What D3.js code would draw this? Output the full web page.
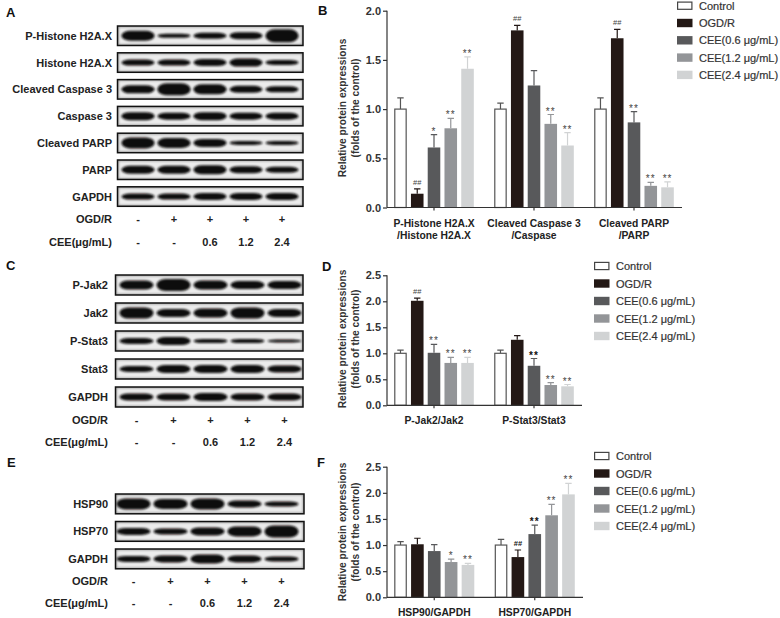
<!DOCTYPE html>
<html>
<head>
<meta charset="utf-8">
<script src="https://cdn.jsdelivr.net/npm/d3@7"></script>
<style>
  html, body { margin: 0; padding: 0; background: #fff; }
  svg { display: block; font-family: "Liberation Sans", Arial, sans-serif; }
  .axis path, .axis line { stroke: #333; stroke-width: 1.2; }
  .axis text { font-size: 11px; font-weight: bold; fill: #333; }
</style>
</head>
<body>
<svg id="chart" width="780" height="618"></svg>
<script>
const seriesNames = ["Control", "OGD/R", "CEE(0.6 μg/mL)", "CEE(1.2 μg/mL)", "CEE(2.4 μg/mL)"];

// bar panels: mean and top of the error bar per group
const groupsB = [["P-Histone H2A.X", "/Histone H2A.X"], ["Cleaved Caspase 3", "/Caspase"], ["Cleaved PARP", "/PARP"]];
const valuesB = [[1.0, 0.14, 0.61, 0.805, 1.41], [1.0, 1.8, 1.24, 0.85, 0.63], [1.0, 1.72, 0.865, 0.22, 0.205]];
const errorsB = [[1.115, 0.19, 0.74, 0.905, 1.53], [1.06, 1.85, 1.39, 0.945, 0.76], [1.115, 1.81, 0.975, 0.255, 0.26]];
const marksB = [["", "##", "*", "**", "**"], ["", "##", "", "**", "**"], ["", "##", "**", "**", "**"]];

const groupsD = [["P-Jak2/Jak2"], ["P-Stat3/Stat3"]];
const valuesD = [[1.0, 2.01, 1.01, 0.815, 0.815], [1.0, 1.26, 0.76, 0.39, 0.365]];
const errorsD = [[1.06, 2.06, 1.17, 0.92, 0.92], [1.06, 1.34, 0.9, 0.435, 0.4]];
const marksD = [["", "##", "**", "**", "**"], ["", "", "**!", "**", "**"]];

const groupsF = [["HSP90/GAPDH"], ["HSP70/GAPDH"]];
const valuesF = [[1.0, 1.015, 0.885, 0.675, 0.62], [1.0, 0.77, 1.21, 1.57, 1.97]];
const errorsF = [[1.065, 1.13, 1.01, 0.73, 0.65], [1.11, 0.905, 1.38, 1.78, 2.18]];
const marksF = [["", "", "", "*", "**"], ["", "##!", "**!", "**", "**"]];

// blot panels: band thickness per lane
const proteinsA = ["P-Histone H2A.X", "Histone H2A.X", "Cleaved Caspase 3", "Caspase 3", "Cleaved PARP", "PARP", "GAPDH"];
const bandsA = [[9, 3, 5, 6, 12], [5, 5, 6, 7, 4], [7, 11, 9, 6, 5], [7, 6, 7, 6, 6], [10, 9, 7, 3, 3], [7, 7, 8, 6, 5], [5, 5, 6, 6, 6]];
const proteinsC = ["P-Jak2", "Jak2", "P-Stat3", "Stat3", "GAPDH"];
const bandsC = [[8, 11, 8, 7, 7], [10, 7, 8, 10, 7], [5, 7, 3, 3, 2], [5, 7, 7, 7, 6], [6, 6, 7, 6, 6]];
const proteinsE = ["HSP90", "HSP70", "GAPDH"];
const bandsE = [[10, 9, 10, 6, 4], [6, 5, 7, 9, 11], [5, 6, 8, 6, 4]];

const ogdLabels = ["-", "+", "+", "+", "+"];
const ceeLabels = ["-", "-", "0.6", "1.2", "2.4"];

const seriesColors = ["#ffffff", "#231815", "#58595b", "#939598", "#d1d3d4"];
const textColor = "#222";

const svg = d3.select("#chart");

const defs = svg.append("defs");
defs.append("filter").attr("id", "soft")
  .attr("x", "-20%").attr("y", "-60%").attr("width", "140%").attr("height", "220%")
  .append("feGaussianBlur").attr("stdDeviation", "1.1 0.8");
defs.append("filter").attr("id", "edge")
  .append("feGaussianBlur").attr("stdDeviation", 1.2);

function drawBars(opts) {
  const g = svg.append("g");
  const yScale = d3.scaleLinear().domain([0, opts.yMax]).range([opts.bottom, opts.top]);
  const x0 = d3.scaleBand()
    .domain(opts.groups.map((d) => d[0]))
    .range([opts.left - 3, opts.left - 3 + opts.groups.length * opts.groupStep]);
  const x1 = d3.scaleBand().domain(seriesNames).range([6, opts.groupStep - 6]).padding(0.25);
  const barW = x1.bandwidth();

  const group = g.selectAll("g.group")
    .data(opts.groups)
    .join("g")
    .attr("class", "group")
    .attr("transform", (d) => `translate(${x0(d[0])},0)`);

  group.each(function (d, gi) {
    const rows = seriesNames.map((name, i) => ({
      name: name,
      i: i,
      value: opts.values[gi][i],
      top: opts.errors[gi][i],
      mark: opts.marks[gi][i],
    }));
    const sel = d3.select(this);

    // error bars first, the bar covers the lower half
    sel.selectAll("path.err")
      .data(rows)
      .join("path")
      .attr("class", "err")
      .attr("fill", "none")
      .attr("stroke", (r) => (r.i === 0 ? "#555" : seriesColors[r.i]))
      .attr("stroke-width", 1.2)
      .attr("d", (r) => {
        const cx = x1(r.name) + barW / 2;
        return `M${cx},${yScale(r.value)}V${yScale(r.top)}M${cx - 3.2},${yScale(r.top)}H${cx + 3.2}`;
      });

    sel.selectAll("rect")
      .data(rows)
      .join("rect")
      .attr("x", (r) => x1(r.name) + (r.i === 0 ? 0.6 : 0))
      .attr("y", (r) => yScale(r.value))
      .attr("width", (r) => barW - (r.i === 0 ? 1.2 : 0))
      .attr("height", (r) => opts.bottom - yScale(r.value))
      .attr("fill", (r) => seriesColors[r.i])
      .attr("stroke", (r) => (r.i === 0 ? "#555" : "none"))
      .attr("stroke-width", 1.2);

    // trailing ! means the mark is printed dark in the figure
    sel.selectAll("text")
      .data(rows.filter((r) => r.mark))
      .join("text")
      .attr("x", (r) => x1(r.name) + barW / 2)
      .attr("y", (r) => yScale(r.top) - (r.mark[0] === "#" ? 4 : 0))
      .attr("text-anchor", "middle")
      .attr("font-size", (r) => (r.mark[0] === "#" ? 7.5 : 10))
      .attr("letter-spacing", (r) => (r.mark[0] === "#" ? 0 : 1))
      .attr("font-weight", (r) => (r.mark.endsWith("!") ? "bold" : "normal"))
      .attr("fill", (r) => (r.mark.endsWith("!") ? "#111" : "#444"))
      .text((r) => r.mark.replace("!", ""));
  });

  // axes
  const yAxis = d3.axisLeft(yScale)
    .tickValues(d3.range(0, opts.yMax + 0.01, 0.5))
    .tickFormat(d3.format(".1f"))
    .tickSize(4)
    .tickPadding(2);
  g.append("g").attr("class", "axis")
    .attr("transform", `translate(${opts.left},0)`)
    .call(yAxis)
    .call((a) => a.select(".domain").attr("d", `M0,${opts.bottom}V${opts.top}`));

  const xAxis = d3.axisBottom(x0).tickSize(3).tickFormat("");
  g.append("g").attr("class", "axis")
    .attr("transform", `translate(0,${opts.bottom})`)
    .call(xAxis)
    .call((a) => a.select(".domain").attr("d", `M${opts.left},0H${opts.right}`));

  g.selectAll("text.group-label")
    .data(opts.groups.flatMap((lines) => lines.map((t, li) => ({ key: lines[0], t: t, li: li }))))
    .join("text")
    .attr("class", "group-label")
    .attr("x", (d) => x0(d.key) + x0.bandwidth() / 2)
    .attr("y", (d) => opts.bottom + opts.labelGap + d.li * 12)
    .attr("text-anchor", "middle")
    .attr("font-size", 10.3)
    .attr("font-weight", "bold")
    .attr("fill", textColor)
    .text((d) => d.t);

  // y title
  g.selectAll("text.y-title")
    .data(["Relative protein expressions", "(folds of the control)"])
    .join("text")
    .attr("class", "y-title")
    .attr("transform", (d, i) => `translate(${345.5 + i * 13},${opts.titleY}) rotate(-90)`)
    .attr("text-anchor", "middle")
    .attr("font-size", 10.2)
    .attr("font-weight", "bold")
    .attr("fill", "#333")
    .text((d) => d);

  // legend
  const legendY = d3.scalePoint().domain(seriesNames).range([opts.legendTop, opts.legendTop + opts.legendStep * 4]);
  const legend = g.selectAll("g.legend")
    .data(seriesNames)
    .join("g")
    .attr("class", "legend")
    .attr("transform", (d) => `translate(${opts.legendX},${legendY(d)})`);
  legend.append("rect")
    .attr("x", (d, i) => (i === 0 ? 0.6 : 0))
    .attr("y", (d, i) => (i === 0 ? -3.6 : -4.2))
    .attr("width", (d, i) => (i === 0 ? 14.3 : 15.5))
    .attr("height", (d, i) => (i === 0 ? 7.2 : 8.4))
    .attr("fill", (d, i) => seriesColors[i])
    .attr("stroke", (d, i) => (i === 0 ? "#444" : "none"))
    .attr("stroke-width", 1.2);
  legend.append("text")
    .attr("x", 22)
    .attr("y", 4)
    .attr("font-size", 11)
    .attr("fill", "#333")
    .attr("stroke", "#333")
    .attr("stroke-width", 0.2)
    .text((d) => d);
}

function drawBlots(opts) {
  const g = svg.append("g");
  const lane = d3.scaleBand().domain(d3.range(5)).range([opts.laneStart, opts.laneEnd]);
  const row = d3.scaleBand().domain(opts.proteins).range([opts.top, opts.top + opts.rowStep * opts.proteins.length]);
  const frameH = opts.rowStep - opts.rowGap;

  const blot = g.selectAll("g.blot")
    .data(opts.proteins)
    .join("g")
    .attr("class", "blot")
    .attr("transform", (d) => `translate(0,${row(d)})`);

  blot.each(function (name, ri) {
    const clipId = `clip-${opts.id}-${ri}`;
    defs.append("clipPath").attr("id", clipId)
      .append("rect").attr("x", opts.frameX).attr("y", 0).attr("width", opts.frameW).attr("height", frameH);
    const sel = d3.select(this);
    const inner = sel.append("g").attr("clip-path", `url(#${clipId})`);
    inner.append("rect")
      .attr("x", opts.frameX).attr("y", 0).attr("width", opts.frameW).attr("height", frameH)
      .attr("fill", "#ececec");
    inner.append("rect")
      .attr("x", opts.frameX).attr("y", 0).attr("width", opts.frameW).attr("height", frameH)
      .attr("fill", "none").attr("stroke", "#999").attr("stroke-width", 2.5).attr("filter", "url(#edge)");
    inner.selectAll("rect.band")
      .data(opts.bands[ri])
      .join("rect")
      .attr("class", "band")
      .attr("x", (d, i) => lane(i) + lane.bandwidth() * 0.04)
      .attr("y", (d) => frameH / 2 - d / 2 - 0.5)
      .attr("width", lane.bandwidth() * 0.92)
      .attr("height", (d) => d + 1)
      .attr("rx", 9)
      .attr("ry", (d) => d / 2 + 0.5)
      .attr("fill", "#0f0d0c")
      .attr("filter", "url(#soft)");
    sel.append("rect")
      .attr("x", opts.frameX).attr("y", 0).attr("width", opts.frameW).attr("height", frameH)
      .attr("fill", "none").attr("stroke", "#111").attr("stroke-width", 1.5);
    sel.append("text")
      .attr("x", opts.labelX)
      .attr("y", frameH / 2 + 4)
      .attr("text-anchor", "end")
      .attr("font-size", 11)
      .attr("font-weight", "bold")
      .attr("fill", textColor)
      .text(name);
  });

  // treatment rows under the blots
  [["OGD/R", ogdLabels, opts.ogdY], ["CEE(μg/mL)", ceeLabels, opts.ceeY]].forEach(([label, cells, y]) => {
    g.append("text")
      .attr("x", opts.labelX).attr("y", y)
      .attr("text-anchor", "end")
      .attr("font-size", 11).attr("font-weight", "bold").attr("fill", textColor)
      .text(label);
    g.selectAll(null)
      .data(cells)
      .join("text")
      .attr("x", (d, i) => lane(i) + lane.bandwidth() / 2)
      .attr("y", y)
      .attr("text-anchor", "middle")
      .attr("font-size", 11).attr("font-weight", "bold").attr("fill", textColor)
      .text((d) => d);
  });
}

drawBlots({ id: "a", proteins: proteinsA, bands: bandsA, top: 26, rowStep: 26.8, rowGap: 7.3, frameX: 117.5, frameW: 185.5,
  laneStart: 120, laneEnd: 300, labelX: 112, ogdY: 223, ceeY: 246 });
drawBlots({ id: "c", proteins: proteinsC, bands: bandsC, top: 275, rowStep: 28, rowGap: 8, frameX: 115.5, frameW: 187.5,
  laneStart: 118, laneEnd: 303, labelX: 108, ogdY: 424, ceeY: 446 });
drawBlots({ id: "e", proteins: proteinsE, bands: bandsE, top: 494, rowStep: 27.5, rowGap: 7.7, frameX: 115.5, frameW: 188.5,
  laneStart: 115, laneEnd: 300, labelX: 108, ogdY: 585, ceeY: 607 });

drawBars({ groups: groupsB, values: valuesB, errors: errorsB, marks: marksB, yMax: 2, top: 10.7, bottom: 207.5,
  left: 387, right: 682, groupStep: 100, labelGap: 19, titleY: 108, legendX: 677, legendTop: 5.7, legendStep: 17.3 });
drawBars({ groups: groupsD, values: valuesD, errors: errorsD, marks: marksD, yMax: 2.5, top: 275.3, bottom: 405.3,
  left: 387, right: 582, groupStep: 100, labelGap: 19, titleY: 339, legendX: 594, legendTop: 266, legendStep: 17.5 });
drawBars({ groups: groupsF, values: valuesF, errors: errorsF, marks: marksF, yMax: 2.5, top: 466.7, bottom: 597.3,
  left: 387, right: 583, groupStep: 100.5, labelGap: 19, titleY: 532, legendX: 594, legendTop: 456, legendStep: 17.5 });

// panel letters
const panelLetters = ["A", "B", "C", "D", "E", "F"];
const letterX = d3.scaleOrdinal().domain(panelLetters).range([6, 318, 6, 322, 7, 317]);
const letterY = d3.scaleOrdinal().domain(panelLetters).range([17, 15, 270, 271, 467, 467]);
svg.selectAll("text.letter")
  .data(panelLetters)
  .join("text")
  .attr("class", "letter")
  .attr("x", (d) => letterX(d))
  .attr("y", (d) => letterY(d))
  .attr("font-size", 13)
  .attr("font-weight", "bold")
  .attr("fill", "#111")
  .text((d) => d);
</script>
</body>
</html>
